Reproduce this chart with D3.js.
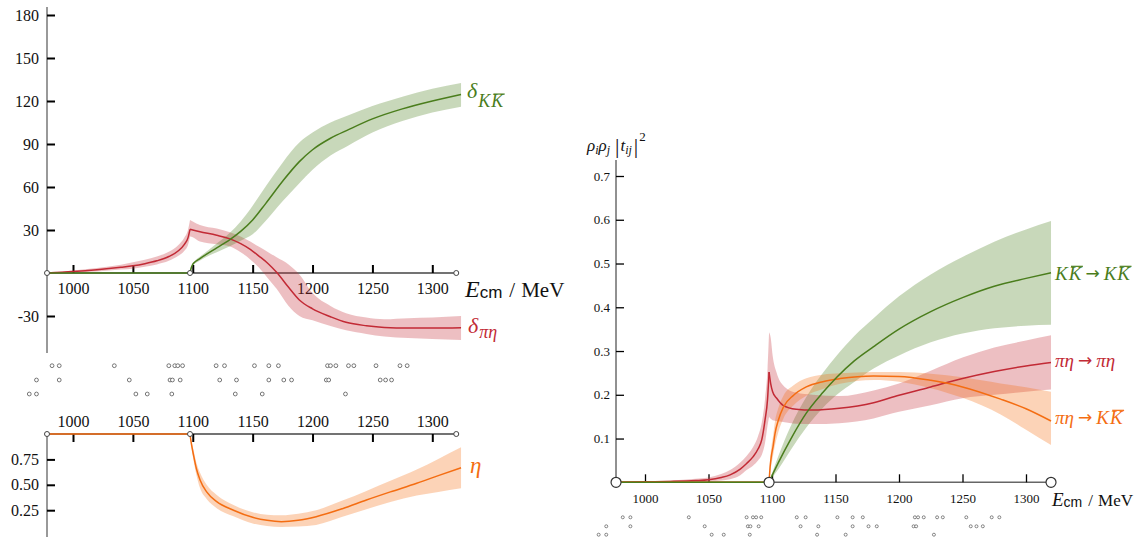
<!DOCTYPE html>
<html><head><meta charset="utf-8">
<script src="https://cdn.jsdelivr.net/npm/d3@7"></script>
<style>body{margin:0;background:#fff}svg{display:block}</style>
</head><body>
<svg id="c" width="1144" height="540"></svg>
<script>
// ---------------- DATA ----------------
// axis energy extents [start, KKbar threshold, end] (MeV)
const axisEL = [978.3, 1097.7, 1320];
const axisER = [977.2, 1097.7, 1319.7];
const xTicks = [1000, 1050, 1100, 1150, 1200, 1250, 1300];
const yTicksTop = [-30, 30, 60, 90, 120, 150, 180];
const yTicksEta = [0.25, 0.5, 0.75];
const yTicksR = [0.1, 0.2, 0.3, 0.4, 0.5, 0.6, 0.7];

// delta_{pi eta} (degrees)
const dPiEtaE  = [978.3,1000,1020,1040,1050,1060,1070,1080,1088,1093,1096,1097.7,1100,1106,1120,1131,1140,1148,1155,1163,1170,1180,1189,1200,1215,1228,1245,1260,1280,1300,1324];
const dPiEta   = [0,1.0,2.3,4.0,5.0,6.5,8.5,11.5,15.5,20,24.5,30.5,30,28.8,26.3,23.8,20.5,16.5,12,6.5,0.5,-10,-18.8,-25,-30.5,-34.4,-36.8,-38,-38.4,-38.4,-38.2];
const dPiEtaHi = [0,1.7,3.5,5.8,7.5,9.2,11.5,14.8,19.5,24.8,30,37,36,33.5,31,28.5,25.5,22,18.5,14.5,11,6,-1,-14,-23,-28,-31,-32.2,-31.5,-31,-30];
const dPiEtaLo = [0,0.3,1.0,2.4,3.0,4.3,6.0,8.5,12,15.5,19.5,25.5,25,22,20,18.5,14.5,9.5,4,-4,-11,-23,-30,-33,-37,-40,-42.5,-44.3,-45.3,-46,-46.7];

// delta_{K Kbar} (degrees)
const dKKE  = [978.3,1097.7,1098.5,1099.7,1102,1105,1110,1120,1131,1140,1150,1161,1175,1189,1200,1215,1230,1250,1275,1300,1324];
const dKK   = [0,0,3,5.6,7.8,9.5,12.3,17.5,23.3,29,37,48.6,64,77.7,86,94,100,107.5,114.5,120,124.5];
const dKKHi = [0,0,3.5,6.4,8.8,10.8,14,20.5,28,36,47,60.5,77,91,98,105,110,116.5,123,128.5,132.5];
const dKKLo = [0,0,2.5,4.8,6.8,8.2,10.6,14.5,18.6,22.5,27,36.5,50,62.6,72,82,89,98,106,112,116];

// inelasticity eta
const etaE  = [978.3,1097.7,1098.5,1099.5,1100.5,1103,1106,1111.6,1120,1134,1150,1162,1174,1188,1203,1225,1245,1265,1287,1305,1324];
const eta   = [1,1,0.93,0.86,0.8,0.66,0.55,0.43,0.334,0.25,0.18,0.15,0.137,0.15,0.186,0.265,0.35,0.43,0.515,0.59,0.668];
const etaHi = [1,1,0.95,0.9,0.85,0.72,0.62,0.5,0.4,0.3,0.23,0.205,0.2,0.215,0.25,0.345,0.44,0.54,0.65,0.755,0.869];
const etaLo = [1,1,0.91,0.82,0.75,0.6,0.47,0.36,0.27,0.19,0.12,0.095,0.085,0.09,0.105,0.185,0.26,0.33,0.395,0.43,0.466];

// rho_i rho_j |t_ij|^2 : pi eta -> pi eta
const rPPE  = [977.2,1000,1020,1040,1050,1060,1067,1075,1080,1085,1089,1092,1094.5,1096.5,1097.7,1099,1100.5,1103.7,1108.7,1119,1132,1153,1180,1200,1225,1250,1275,1300,1319.7];
const rPP   = [0,0.001,0.002,0.004,0.006,0.011,0.017,0.03,0.043,0.058,0.076,0.098,0.142,0.19,0.252,0.225,0.207,0.192,0.176,0.167,0.165,0.169,0.182,0.199,0.218,0.237,0.253,0.266,0.274];
const rPPHi = [0,0.002,0.004,0.008,0.011,0.019,0.028,0.045,0.06,0.08,0.105,0.137,0.19,0.26,0.343,0.33,0.29,0.25,0.222,0.205,0.2,0.197,0.21,0.226,0.255,0.285,0.308,0.324,0.336];
const rPPLo = [0,0,0.001,0.001,0.002,0.004,0.007,0.016,0.028,0.038,0.05,0.063,0.09,0.13,0.15,0.145,0.142,0.14,0.138,0.134,0.133,0.135,0.146,0.161,0.176,0.192,0.2,0.207,0.212];

// pi eta -> K Kbar
const rPKE  = [977.2,1097.7,1098.5,1099.5,1100.8,1102.4,1105,1109,1117,1127,1140,1153.5,1180,1200,1225,1250,1280,1300,1319.7];
const rPK   = [0,0,0.035,0.06,0.081,0.112,0.142,0.172,0.199,0.218,0.23,0.237,0.243,0.242,0.233,0.218,0.19,0.168,0.14];
const rPKHi = [0,0,0.05,0.08,0.105,0.14,0.17,0.198,0.222,0.238,0.246,0.249,0.252,0.252,0.248,0.24,0.226,0.217,0.207];
const rPKLo = [0,0,0.02,0.04,0.06,0.085,0.115,0.146,0.176,0.198,0.213,0.225,0.234,0.23,0.215,0.193,0.155,0.12,0.085];

// K Kbar -> K Kbar
const rKKE  = [977.2,1097.7,1100,1105,1115,1127,1140,1151,1165,1180,1200,1225,1250,1275,1300,1319.7];
const rKK   = [0,0,0.015,0.045,0.1,0.158,0.205,0.24,0.278,0.31,0.35,0.39,0.422,0.448,0.466,0.479];
const rKKHi = [0,0,0.02,0.06,0.13,0.195,0.25,0.29,0.335,0.375,0.425,0.475,0.515,0.55,0.578,0.597];
const rKKLo = [0,0,0.01,0.03,0.075,0.125,0.17,0.2,0.23,0.26,0.29,0.32,0.34,0.352,0.358,0.36];

// energy levels (three rows of markers)
const levelsRow1 = [982.5,988.5,1034.5,1080,1085,1087.5,1091.5,1119.5,1126.5,1151.5,1163.5,1171.5,1212.5,1215,1219.5,1230,1234.5,1253,1273,1279];
const levelsRow2 = [969.5,988.5,1047,1081,1083,1089.5,1122.5,1136.5,1163.5,1176,1182.5,1211.5,1213.5,1256.5,1261,1266];
const levelsRow3 = [963.5,969.5,1052.5,1062,1082.5,1135.5,1158,1227.5];

// ---------------- DRAWING ----------------
const SERIF = "'Liberation Serif','DejaVu Serif',serif";
const SANS = "'Liberation Sans','DejaVu Sans',sans-serif";
const ARROWF = "'DejaVu Sans',sans-serif";
const RED = "#c22a35", GREEN = "#4a7d1c", ORANGE = "#f46d12";

const svg = d3.select("#c");
const xL = d3.scaleLinear().domain([1000, 1300]).range([73, 432.3]);
const yT = d3.scaleLinear().domain([0, 180]).range([273, 15]);
const yB = d3.scaleLinear().domain([0, 1]).range([535.6, 434]);
const xR = d3.scaleLinear().domain([1000, 1300]).range([645, 1026]);
const yR = d3.scaleLinear().domain([0, 0.7]).range([482.3, 176]);

function segs(E, split) {
  const a = [], b = [];
  E.forEach((e, i) => { if (e <= split) a.push(i); if (e >= split) b.push(i); });
  return [a, b].filter(s => s.length > 1);
}
function band(g, x, y, E, lo, hi, split, color) {
  const ar = d3.area().x(i => x(E[i])).y0(i => y(lo[i])).y1(i => y(hi[i])).curve(d3.curveMonotoneX);
  segs(E, split).forEach(s => g.append("path").attr("d", ar(s)).attr("fill", color).attr("fill-opacity", 0.3));
}
function curve(g, x, y, E, v, split, color) {
  const ln = d3.line().x(i => x(E[i])).y(i => y(v[i])).curve(d3.curveMonotoneX);
  segs(E, split).forEach(s => g.append("path").attr("d", ln(s)).attr("fill", "none")
    .attr("stroke", color).attr("stroke-width", 1.5));
}
function styleAxis(g, size, tw) {
  g.select(".domain").remove();
  g.attr("font-family", SERIF).attr("font-size", size);
  g.selectAll(".tick line").attr("stroke", "#000").attr("stroke-width", tw);
  g.selectAll(".tick text").attr("fill", "#111").style("font-family", SERIF).style("font-size", size + "px");
}
function rich(g, x, y, pieces, color) {
  let cx = x;
  pieces.forEach(p => {
    const t = g.append("text").attr("x", cx).attr("y", y + (p.dy || 0))
      .style("font-family", p.ff || SERIF).style("font-size", p.s + "px")
      .style("font-style", p.i ? "italic" : "normal").attr("fill", color).text(p.t);
    const w = t.node().getComputedTextLength();
    if (p.o) {
      const oy = y + (p.dy || 0) - p.s * 0.72;
      g.append("line").attr("x1", cx + p.s * 0.12).attr("x2", cx + w + p.s * 0.08)
        .attr("y1", oy).attr("y2", oy).attr("stroke", color).attr("stroke-width", Math.max(1, p.s / 16));
    }
    cx += w + (p.g || 0);
  });
}
const fmtInt = d => String(d);

// ===== Left top panel =====
const gT = svg.append("g");
gT.append("line").attr("x1", 47).attr("x2", 47).attr("y1", 7).attr("y2", 353).attr("stroke", "#777").attr("stroke-width", 1.5);
gT.append("line").attr("x1", xL(axisEL[0])).attr("x2", xL(axisEL[2])).attr("y1", yT(0)).attr("y2", yT(0)).attr("stroke", "#444").attr("stroke-width", 1.5);
const axTx = gT.append("g").attr("transform", `translate(0,${yT(0)})`)
  .call(d3.axisBottom(xL).tickValues(xTicks).tickSizeInner(-8).tickSizeOuter(0).tickPadding(10).tickFormat(fmtInt));
styleAxis(axTx, 16, 2);
const axTy = gT.append("g").attr("transform", "translate(47,0)")
  .call(d3.axisLeft(yT).tickValues(yTicksTop).tickSizeInner(-8).tickSizeOuter(0).tickPadding(8).tickFormat(fmtInt));
styleAxis(axTy, 16, 2);

band(gT, xL, yT, dPiEtaE, dPiEtaLo, dPiEtaHi, axisEL[1], RED);
band(gT, xL, yT, dKKE, dKKLo, dKKHi, axisEL[1], GREEN);
curve(gT, xL, yT, dPiEtaE, dPiEta, axisEL[1], RED);
curve(gT, xL, yT, dKKE, dKK, axisEL[1], GREEN);
axisEL.forEach(e => gT.append("circle").attr("cx", xL(e)).attr("cy", yT(0)).attr("r", 2.5)
  .attr("fill", "#fff").attr("stroke", "#444").attr("stroke-width", 1));

rich(gT, 465, 297, [{t: "E", i: 1, s: 24}, {t: "cm", s: 17, ff: SANS, dy: 1, g: 7}, {t: "/", s: 21, g: 6}, {t: "MeV", s: 21}], "#111");
rich(gT, 467, 98, [{t: "δ", i: 1, s: 22, g: 1}, {t: "K", i: 1, s: 18, dy: 9, g: 1}, {t: "K", i: 1, s: 18, dy: 9, o: 1}], GREEN);
rich(gT, 468, 333, [{t: "δ", i: 1, s: 22, g: 1}, {t: "πη", i: 1, s: 18, dy: 5}], RED);

// ===== energy level markers (left) =====
[[levelsRow1, 365.7], [levelsRow2, 380], [levelsRow3, 394]].forEach(([row, yy]) => {
  svg.append("g").selectAll("circle").data(row).join("circle")
    .attr("cx", d => xL(d)).attr("cy", yy).attr("r", 1.9)
    .attr("fill", "#fff").attr("stroke", "#555").attr("stroke-width", 0.8);
});

// ===== Left bottom panel (eta) =====
const gB = svg.append("g");
gB.append("line").attr("x1", 47).attr("x2", 47).attr("y1", 434).attr("y2", 537).attr("stroke", "#777").attr("stroke-width", 1.5);
gB.append("line").attr("x1", xL(axisEL[0])).attr("x2", xL(axisEL[2])).attr("y1", yB(1)).attr("y2", yB(1)).attr("stroke", "#444").attr("stroke-width", 1.5);
const axBx = gB.append("g").attr("transform", `translate(0,${yB(1)})`)
  .call(d3.axisTop(xL).tickValues(xTicks).tickSizeInner(-8).tickSizeOuter(0).tickPadding(7).tickFormat(fmtInt));
styleAxis(axBx, 16, 2);
const axBy = gB.append("g").attr("transform", "translate(47,0)")
  .call(d3.axisLeft(yB).tickValues(yTicksEta).tickSizeInner(-8).tickSizeOuter(0).tickPadding(8).tickFormat(d3.format(".2f")));
styleAxis(axBy, 16, 2);
band(gB, xL, yB, etaE, etaLo, etaHi, axisEL[1], ORANGE);
curve(gB, xL, yB, etaE, eta, axisEL[1], ORANGE);
axisEL.forEach(e => gB.append("circle").attr("cx", xL(e)).attr("cy", yB(1)).attr("r", 2.5)
  .attr("fill", "#fff").attr("stroke", "#444").attr("stroke-width", 1));
rich(gB, 470, 473, [{t: "η", i: 1, s: 23}], ORANGE);

// ===== Right panel =====
const gR = svg.append("g");
gR.append("line").attr("x1", 616).attr("x2", 616).attr("y1", 160).attr("y2", yR(0)).attr("stroke", "#222").attr("stroke-width", 1);
gR.append("line").attr("x1", xR(axisER[0])).attr("x2", xR(axisER[2])).attr("y1", yR(0)).attr("y2", yR(0)).attr("stroke", "#666").attr("stroke-width", 1.5);
const axRx = gR.append("g").attr("transform", `translate(0,${yR(0)})`)
  .call(d3.axisBottom(xR).tickValues(xTicks).tickSizeInner(-8).tickSizeOuter(0).tickPadding(11).tickFormat(fmtInt));
styleAxis(axRx, 13, 1.3);
const axRy = gR.append("g").attr("transform", "translate(616,0)")
  .call(d3.axisLeft(yR).tickValues(yTicksR).tickSizeInner(-8).tickSizeOuter(0).tickPadding(6).tickFormat(d3.format(".1f")));
styleAxis(axRy, 13, 1.3);

band(gR, xR, yR, rKKE, rKKLo, rKKHi, axisER[1], GREEN);
band(gR, xR, yR, rPPE, rPPLo, rPPHi, axisER[1], RED);
band(gR, xR, yR, rPKE, rPKLo, rPKHi, axisER[1], ORANGE);
curve(gR, xR, yR, rPPE, rPP, axisER[1], RED);
curve(gR, xR, yR, rPKE, rPK, axisER[1], ORANGE);
curve(gR, xR, yR, rKKE, rKK, axisER[1], GREEN);
axisER.forEach(e => gR.append("circle").attr("cx", xR(e)).attr("cy", yR(0)).attr("r", 5)
  .attr("fill", "#fff").attr("stroke", "#333").attr("stroke-width", 1.2));

[[levelsRow1, 517.3], [levelsRow2, 526.3], [levelsRow3, 534.7]].forEach(([row, yy]) => {
  svg.append("g").selectAll("circle").data(row).join("circle")
    .attr("cx", d => xR(d)).attr("cy", yy).attr("r", 1.5)
    .attr("fill", "#fff").attr("stroke", "#555").attr("stroke-width", 0.7);
});

rich(gR, 1052, 506, [{t: "E", i: 1, s: 19}, {t: "cm", s: 14, ff: SANS, dy: 1, g: 6}, {t: "/", s: 17, g: 5}, {t: "MeV", s: 17}], "#111");
rich(gR, 587, 151, [{t: "ρ", i: 1, s: 17}, {t: "i", i: 1, s: 12, dy: 3}, {t: "ρ", i: 1, s: 17}, {t: "j", i: 1, s: 12, dy: 3, g: 5},
  {t: "|", s: 22, dy: 2, g: 1}, {t: "t", i: 1, s: 17}, {t: "ij", i: 1, s: 12, dy: 3, g: 2}, {t: "|", s: 22, dy: 2, g: 1}, {t: "2", s: 13, dy: -10}], "#111");
rich(gR, 1055, 280, [{t: "K", i: 1, s: 19, g: 1}, {t: "K", i: 1, s: 19, o: 1, g: 4}, {t: "→", s: 17, ff: ARROWF, dy: -1, g: 4},
  {t: "K", i: 1, s: 19, g: 1}, {t: "K", i: 1, s: 19, o: 1}], GREEN);
rich(gR, 1055, 367, [{t: "πη", i: 1, s: 19, g: 4}, {t: "→", s: 17, ff: ARROWF, dy: -1, g: 4}, {t: "πη", i: 1, s: 19}], RED);
rich(gR, 1055, 424, [{t: "πη", i: 1, s: 19, g: 4}, {t: "→", s: 17, ff: ARROWF, dy: -1, g: 4}, {t: "K", i: 1, s: 19, g: 1}, {t: "K", i: 1, s: 19, o: 1}], ORANGE);
</script>
</body></html>
